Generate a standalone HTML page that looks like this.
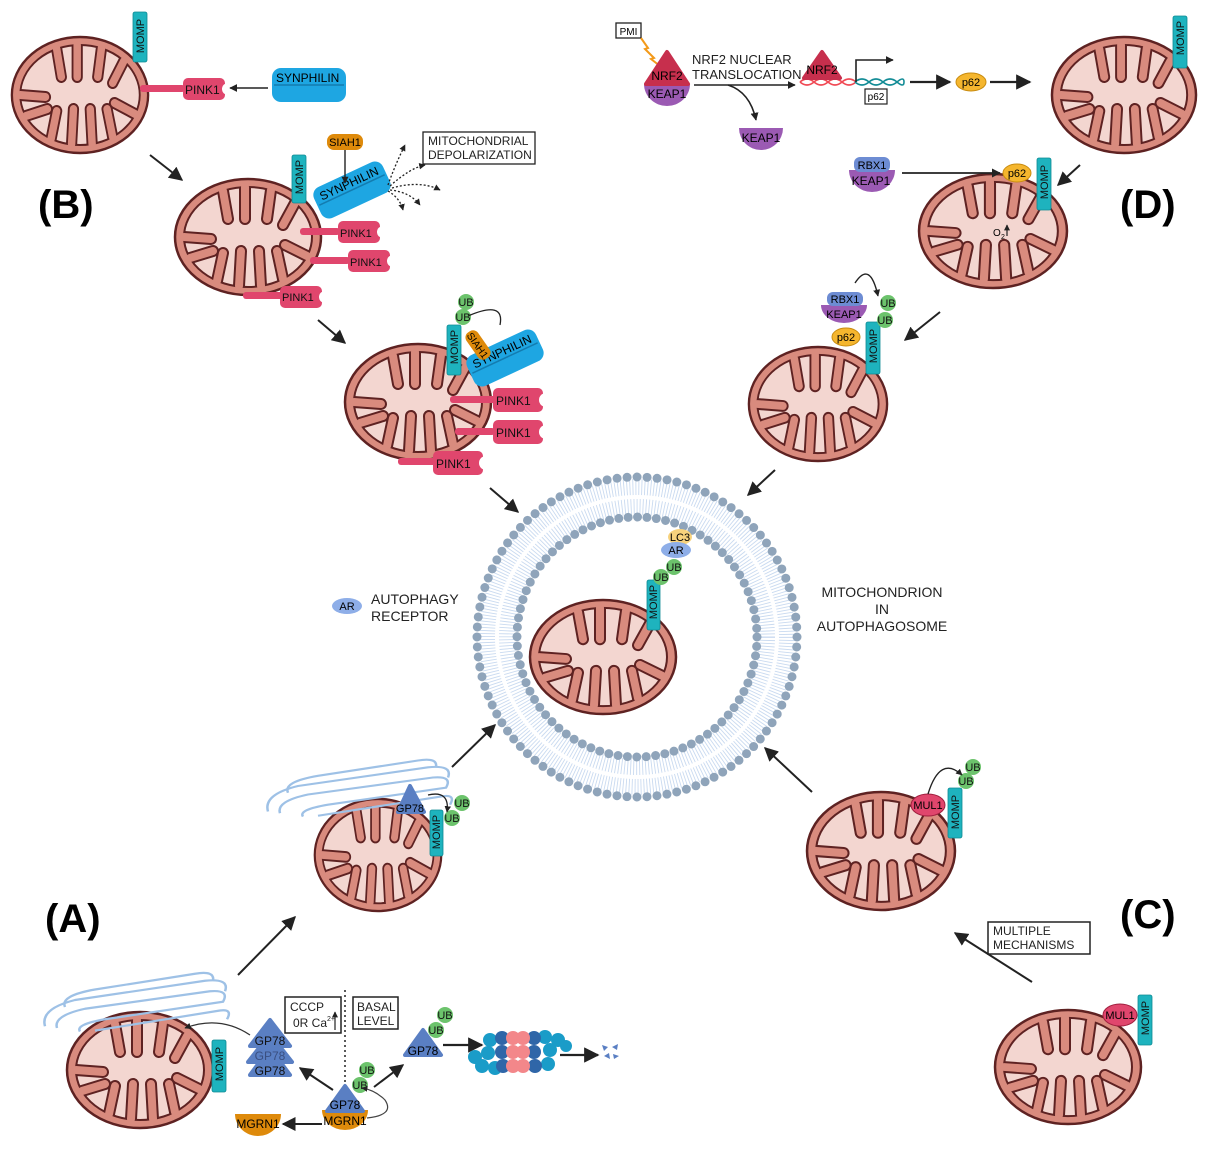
<!DOCTYPE html>
<html><head><meta charset="utf-8"><style>
html,body{margin:0;padding:0;background:#fff}
svg{display:block;font-family:"Liberation Sans",sans-serif}
</style></head><body>
<svg width="1219" height="1154" viewBox="0 0 1219 1154" xmlns="http://www.w3.org/2000/svg">
<defs>
<marker id="ah" viewBox="0 0 10 10" refX="9" refY="5" markerWidth="5" markerHeight="5" orient="auto"><path d="M0,0L10,5L0,10Z" fill="#222"/></marker>
<marker id="as" viewBox="0 0 10 10" refX="9" refY="5" markerWidth="7" markerHeight="7" orient="auto"><path d="M0,0L10,5L0,10Z" fill="#222"/></marker>
<symbol id="mito" viewBox="0 0 150 120" preserveAspectRatio="none">
<ellipse cx="75" cy="60" rx="73" ry="58" fill="#d98b7e"/>
<ellipse cx="75" cy="60" rx="64" ry="50" fill="#f3d6d0"/>
<path stroke-linecap="round" fill="none" stroke="#5e2222" stroke-width="12" d="M50 14L55 42M72 10V42M98 13L94 42M122 26L110 48M11 60L38 62M17 81L40 74M44 104L50 76M66 109L68 74M88 109L86 74M110 102L104 74M134 79L112 68"/>
<path fill="#d98b7e" fill-rule="evenodd" d="M2,60 a73,58 0 1,0 146,0 a73,58 0 1,0 -146,0 Z M11,60 a64,50 0 1,0 128,0 a64,50 0 1,0 -128,0 Z"/>
<ellipse cx="75" cy="60" rx="64" ry="50" fill="none" stroke="#5e2222" stroke-width="2"/>
<path stroke-linecap="round" fill="none" stroke="#d98b7e" stroke-width="8" d="M50 14L55 42M72 10V42M98 13L94 42M122 26L110 48M11 60L38 62M17 81L40 74M44 104L50 76M66 109L68 74M88 109L86 74M110 102L104 74M134 79L112 68"/>
<ellipse cx="75" cy="60" rx="73" ry="58" fill="none" stroke="#5e2222" stroke-width="2.5"/>
</symbol>
<symbol id="golgi" viewBox="0 0 200 80" preserveAspectRatio="none">
<g fill="none" stroke="#9ec1e6" stroke-width="2.5">
<path d="M10 70 Q5 50 40 40 L170 18 Q195 15 190 30"/>
<path d="M22 72 Q18 58 50 50 L175 30 Q195 28 188 42 L70 62 Q40 68 45 76"/>
<path d="M30 48 Q25 35 60 28 L160 10 Q180 6 178 18"/>
<path d="M60 75 L185 52 Q198 50 192 62"/>
</g>
</symbol>
</defs>

<use href="#mito" x="10" y="35" width="140" height="120"/>
<use href="#mito" x="173" y="177" width="150" height="120"/>
<use href="#mito" x="343" y="342" width="150" height="120"/>
<use href="#mito" x="1050" y="35" width="148" height="120"/>
<use href="#mito" x="917" y="172" width="152" height="118"/>
<use href="#mito" x="747" y="345" width="142" height="118"/>
<use href="#mito" x="313" y="797" width="130" height="116"/>
<use href="#mito" x="65" y="1010" width="150" height="120"/>
<use href="#mito" x="805" y="790" width="152" height="122"/>
<use href="#mito" x="993" y="1008" width="150" height="118"/>

<g fill="none">
<circle cx="637" cy="637" r="150" stroke="#c9daf0" stroke-width="16" stroke-dasharray="0.9 2.1"/>
<circle cx="637" cy="637" r="130" stroke="#c9daf0" stroke-width="16" stroke-dasharray="0.9 2.1"/>
<circle cx="637" cy="637" r="140" stroke="#fff" stroke-width="2.5"/>
<circle cx="637" cy="637" r="160" stroke="#8fa4ba" stroke-width="9" stroke-dasharray="0 10.05" stroke-linecap="round"/>
<circle cx="637" cy="637" r="120" stroke="#8fa4ba" stroke-width="9" stroke-dasharray="0 9.43" stroke-linecap="round"/>
</g>
<use href="#mito" x="528" y="598" width="150" height="118"/>

<g fill="#1eb3be" stroke="#0e8a93" stroke-width="0.8">
<rect x="133" y="12" width="14" height="50" rx="2"/>
<rect x="292" y="155" width="14" height="48" rx="2"/>
<rect x="447" y="325" width="14" height="50" rx="2"/>
<rect x="1173" y="16" width="14" height="52" rx="2"/>
<rect x="1037" y="158" width="14" height="52" rx="2"/>
<rect x="866" y="322" width="14" height="52" rx="2"/>
<rect x="647" y="580" width="13" height="50" rx="2"/>
<rect x="430" y="810" width="13" height="46" rx="2"/>
<rect x="212" y="1040" width="14" height="52" rx="2"/>
<rect x="948" y="788" width="14" height="50" rx="2"/>
<rect x="1138" y="995" width="14" height="50" rx="2"/>
</g>
<g font-size="11" fill="#111" text-anchor="middle">
<text transform="translate(144,36) rotate(-90)">MOMP</text>
<text transform="translate(303,177) rotate(-90)">MOMP</text>
<text transform="translate(458,347) rotate(-90)">MOMP</text>
<text transform="translate(1184,38) rotate(-90)">MOMP</text>
<text transform="translate(1048,182) rotate(-90)">MOMP</text>
<text transform="translate(877,346) rotate(-90)">MOMP</text>
<text transform="translate(657,602) rotate(-90)">MOMP</text>
<text transform="translate(440,832) rotate(-90)">MOMP</text>
<text transform="translate(223,1064) rotate(-90)">MOMP</text>
<text transform="translate(959,812) rotate(-90)">MOMP</text>
<text transform="translate(1149,1018) rotate(-90)">MOMP</text>
</g>

<g fill="#e0466d">
<rect x="140" y="85" width="45" height="7" rx="3"/>
<rect x="183" y="78" width="42" height="22" rx="5"/>
<rect x="300" y="228" width="40" height="7" rx="3"/>
<rect x="338" y="221" width="42" height="22" rx="5"/>
<rect x="310" y="257" width="40" height="7" rx="3"/>
<rect x="348" y="250" width="42" height="22" rx="5"/>
<rect x="243" y="292" width="40" height="7" rx="3"/>
<rect x="280" y="286" width="42" height="22" rx="5"/>
<rect x="450" y="396" width="48" height="7" rx="3"/>
<rect x="493" y="388" width="50" height="24" rx="5"/>
<rect x="455" y="428" width="40" height="7" rx="3"/>
<rect x="493" y="420" width="50" height="24" rx="5"/>
<rect x="398" y="458" width="40" height="7" rx="3"/>
<rect x="433" y="451" width="50" height="24" rx="5"/>
</g>
<g fill="#fff"><circle cx="228" cy="89" r="6"/><circle cx="383" cy="232" r="6"/><circle cx="393" cy="261" r="6"/><circle cx="325" cy="297" r="6"/><circle cx="546" cy="400" r="7"/><circle cx="546" cy="432" r="7"/><circle cx="486" cy="463" r="7"/></g>
<g font-size="12" fill="#111">
<text x="185" y="94">PINK1</text>
<text x="340" y="237" font-size="11">PINK1</text>
<text x="350" y="266" font-size="11">PINK1</text>
<text x="282" y="301" font-size="11">PINK1</text>
<text x="496" y="405">PINK1</text>
<text x="496" y="437">PINK1</text>
<text x="436" y="468">PINK1</text>
</g>

<g>
<rect x="272" y="68" width="74" height="34" rx="9" fill="#1ea6e2"/>
<line x1="274" y1="85" x2="344" y2="85" stroke="#137cb0" stroke-width="1.5"/>
<text x="276" y="82" font-size="12">SYNPHILIN</text>
</g>
<g transform="translate(352,190) rotate(-25)">
<rect x="-38" y="-17" width="76" height="34" rx="9" fill="#1ea6e2"/>
<line x1="-36" y1="0" x2="36" y2="0" stroke="#137cb0" stroke-width="1.5"/>
<text x="0" y="-3" font-size="12" text-anchor="middle">SYNPHILIN</text>
</g>
<g transform="translate(505,358) rotate(-25)">
<rect x="-38" y="-17" width="76" height="34" rx="9" fill="#1ea6e2"/>
<line x1="-36" y1="0" x2="36" y2="0" stroke="#137cb0" stroke-width="1.5"/>
<text x="0" y="-3" font-size="12" text-anchor="middle">SYNPHILIN</text>
</g>

<rect x="327" y="134" width="36" height="16" rx="7" fill="#de8a0b"/>
<text x="345" y="146" font-size="11" text-anchor="middle">SIAH1</text>
<g transform="translate(478,345) rotate(55)">
<rect x="-16" y="-7" width="32" height="14" rx="6" fill="#de8a0b"/>
<text x="0" y="4" font-size="10" text-anchor="middle">SIAH1</text>
</g>

<g fill="#6cc36c">
<circle cx="466" cy="302" r="8"/><circle cx="463" cy="317" r="8"/>
<circle cx="888" cy="303" r="8"/><circle cx="885" cy="320" r="8"/>
<circle cx="661" cy="577" r="8"/><circle cx="674" cy="567" r="8"/>
<circle cx="462" cy="803" r="8"/><circle cx="452" cy="818" r="8"/>
<circle cx="445" cy="1015" r="8"/><circle cx="436" cy="1030" r="8"/>
<circle cx="367" cy="1070" r="8"/><circle cx="360" cy="1085" r="8"/>
<circle cx="973" cy="767" r="8"/><circle cx="966" cy="781" r="8"/>
</g>
<g font-size="11" text-anchor="middle" fill="#111">
<text x="466" y="306">UB</text><text x="463" y="321">UB</text>
<text x="888" y="307">UB</text><text x="885" y="324">UB</text>
<text x="661" y="581">UB</text><text x="674" y="571">UB</text>
<text x="462" y="807">UB</text><text x="452" y="822">UB</text>
<text x="445" y="1019">UB</text><text x="436" y="1034">UB</text>
<text x="367" y="1074">UB</text><text x="360" y="1089">UB</text>
<text x="973" y="771">UB</text><text x="966" y="785">UB</text>
</g>

<ellipse cx="680" cy="537" rx="12" ry="8" fill="#f7d27d"/>
<text x="680" y="541" font-size="11" text-anchor="middle">LC3</text>
<ellipse cx="676" cy="550" rx="15" ry="8" fill="#8eaee8"/>
<text x="676" y="554" font-size="11" text-anchor="middle">AR</text>
<ellipse cx="347" cy="606" rx="15" ry="8" fill="#8eaee8"/>
<text x="347" y="610" font-size="11" text-anchor="middle">AR</text>
<g font-size="14" fill="#222">
<text x="371" y="604">AUTOPHAGY</text><text x="371" y="621">RECEPTOR</text>
<text x="882" y="597" text-anchor="middle">MITOCHONDRION</text>
<text x="882" y="614" text-anchor="middle">IN</text>
<text x="882" y="631" text-anchor="middle">AUTOPHAGOSOME</text>
</g>

<rect x="616" y="23" width="25" height="15" fill="#fff" stroke="#222" stroke-width="1.3"/>
<text x="628.5" y="35" font-size="10" text-anchor="middle">PMI</text>
<path d="M641 38 L648 48 L645 49 L654 58 L651 59 L660 66" fill="none" stroke="#f39a1a" stroke-width="2"/>
<path d="M644 84 L690 84 A23 22 0 0 1 644 84 Z" fill="#9b5ab3"/>
<path d="M667 52 L688 84 L646 84 Z" fill="#c72f4d" stroke="#c72f4d" stroke-width="4" stroke-linejoin="round"/>
<text x="667" y="80" font-size="12" text-anchor="middle">NRF2</text>
<text x="667" y="98" font-size="12" text-anchor="middle">KEAP1</text>
<g font-size="13" fill="#222"><text x="692" y="64">NRF2 NUCLEAR</text><text x="692" y="79">TRANSLOCATION</text></g>
<line x1="694" y1="85" x2="795" y2="85" stroke="#222" stroke-width="1.6" marker-end="url(#ah)"/>
<path d="M728 85 Q750 92 756 120" fill="none" stroke="#222" stroke-width="1.6" marker-end="url(#ah)"/>
<path d="M739 128 L783 128 A22 22 0 0 1 739 128 Z" fill="#9b5ab3"/>
<text x="761" y="142" font-size="12" text-anchor="middle">KEAP1</text>
<path d="M800 82 q7 -6 14 0 t14 0 t14 0 t14 0 M800 82 q7 6 14 0 t14 0 t14 0 t14 0" fill="none" stroke="#f04a55" stroke-width="1.6"/>
<path d="M855 82 q7 -6 14 0 t14 0 t14 0 t7 0 M855 82 q7 6 14 0 t14 0 t14 0 t7 0" fill="none" stroke="#138c96" stroke-width="1.6"/>
<path d="M822 52 L840 78 L804 78 Z" fill="#c72f4d" stroke="#c72f4d" stroke-width="4" stroke-linejoin="round"/>
<text x="822" y="74" font-size="12" text-anchor="middle">NRF2</text>
<path d="M856 82 V60 H893" fill="none" stroke="#222" stroke-width="1.6" marker-end="url(#ah)"/>
<rect x="865" y="89" width="22" height="15" fill="#fff" stroke="#222" stroke-width="1.2"/>
<text x="876" y="100" font-size="10" text-anchor="middle">p62</text>
<line x1="910" y1="82" x2="950" y2="82" stroke="#222" stroke-width="2.2" marker-end="url(#as)"/>
<ellipse cx="971" cy="82" rx="15" ry="9" fill="#f5b62e" stroke="#c98c10"/>
<text x="971" y="86" font-size="11" text-anchor="middle">p62</text>
<line x1="990" y1="82" x2="1030" y2="82" stroke="#222" stroke-width="2.2" marker-end="url(#as)"/>
<line x1="1080" y1="165" x2="1058" y2="185" stroke="#222" stroke-width="2" marker-end="url(#as)"/>
<path d="M849 170 L895 170 A23 22 0 0 1 849 170 Z" fill="#9b5ab3"/>
<rect x="854" y="157" width="36" height="15" rx="6" fill="#6d8cd3"/>
<text x="872" y="169" font-size="11" text-anchor="middle">RBX1</text>
<text x="871" y="185" font-size="12" text-anchor="middle">KEAP1</text>
<line x1="902" y1="173" x2="1000" y2="173" stroke="#222" stroke-width="1.8" marker-end="url(#ah)"/>
<ellipse cx="1017" cy="173" rx="14" ry="9" fill="#f5b62e" stroke="#c98c10"/>
<text x="1017" y="177" font-size="11" text-anchor="middle">p62</text>
<text x="993" y="236" font-size="10">O</text><text x="1001" y="239" font-size="7">2</text>
<path d="M1007 236 V225" stroke="#222" stroke-width="1.2" marker-end="url(#ah)"/>
<text x="1120" y="218" font-size="40" font-weight="bold">(D)</text>
<line x1="940" y1="312" x2="905" y2="340" stroke="#222" stroke-width="2" marker-end="url(#as)"/>
<path d="M855 283 Q870 260 878 296" fill="none" stroke="#222" stroke-width="1.4" marker-end="url(#ah)"/>
<path d="M821 305 L867 305 A23 18 0 0 1 821 305 Z" fill="#9b5ab3"/>
<rect x="827" y="292" width="36" height="14" rx="6" fill="#6d8cd3"/>
<text x="845" y="303" font-size="11" text-anchor="middle">RBX1</text>
<text x="844" y="318" font-size="11" text-anchor="middle">KEAP1</text>
<ellipse cx="846" cy="337" rx="14" ry="9" fill="#f5b62e" stroke="#c98c10"/>
<text x="846" y="341" font-size="11" text-anchor="middle">p62</text>
<line x1="775" y1="470" x2="748" y2="495" stroke="#222" stroke-width="2" marker-end="url(#as)"/>

<line x1="150" y1="155" x2="182" y2="180" stroke="#222" stroke-width="2" marker-end="url(#as)"/>
<line x1="268" y1="88" x2="230" y2="88" stroke="#222" stroke-width="1.6" marker-end="url(#ah)"/>
<line x1="345" y1="150" x2="345" y2="183" stroke="#222" stroke-width="1.4" marker-end="url(#ah)"/>
<g fill="none" stroke="#222" stroke-width="1.3" stroke-dasharray="2 2" marker-end="url(#ah)">
<path d="M388 185 Q395 165 405 145"/><path d="M390 186 Q410 168 425 165"/><path d="M392 188 Q420 180 440 190"/><path d="M390 190 Q410 192 420 205"/><path d="M388 191 Q400 198 403 210"/>
</g>
<rect x="423" y="132" width="112" height="32" fill="#fff" stroke="#222" stroke-width="1.3"/>
<g font-size="12" fill="#222"><text x="428" y="145">MITOCHONDRIAL</text><text x="428" y="159">DEPOLARIZATION</text></g>
<text x="38" y="218" font-size="40" font-weight="bold">(B)</text>
<line x1="318" y1="320" x2="345" y2="343" stroke="#222" stroke-width="2" marker-end="url(#as)"/>
<path d="M468 316 Q505 300 500 325" fill="none" stroke="#222" stroke-width="1.3"/>
<line x1="490" y1="488" x2="518" y2="512" stroke="#222" stroke-width="2" marker-end="url(#as)"/>

<use href="#golgi" x="258" y="752" width="200" height="68"/>
<use href="#golgi" x="35" y="965" width="200" height="70"/>
<path d="M398 812 L410 786 L424 812 Z" fill="#5a7fc3" stroke="#5a7fc3" stroke-width="4" stroke-linejoin="round"/>
<text x="410" y="812" font-size="11" text-anchor="middle">GP78</text>
<path d="M428 795 Q450 790 447 812" fill="none" stroke="#222" stroke-width="1.3" marker-end="url(#ah)"/>
<line x1="452" y1="767" x2="495" y2="725" stroke="#222" stroke-width="2" marker-end="url(#as)"/>
<line x1="238" y1="975" x2="295" y2="917" stroke="#222" stroke-width="2" marker-end="url(#as)"/>
<text x="45" y="932" font-size="40" font-weight="bold">(A)</text>
<g fill="#5a7fc3" stroke="#5a7fc3" stroke-width="4" stroke-linejoin="round">
<path d="M270 1048 L290 1075 L250 1075 Z"/>
<path d="M270 1034 L292 1062 L248 1062 Z"/>
<path d="M270 1020 L290 1046 L250 1046 Z"/>
</g>
<g font-size="12" text-anchor="middle" fill="#111"><text x="270" y="1045">GP78</text><text x="270" y="1060" fill="#3a4f80">GP78</text><text x="270" y="1075">GP78</text></g>
<path d="M250 1035 Q220 1015 185 1028" fill="none" stroke="#333" stroke-width="1.3" marker-end="url(#ah)"/>
<rect x="285" y="997" width="56" height="36" fill="#fff" stroke="#222" stroke-width="1.5"/>
<g font-size="12" fill="#222"><text x="290" y="1011">CCCP</text><text x="293" y="1027">0R Ca</text><text x="327" y="1021" font-size="7">2+</text></g>
<path d="M335 1030 V1012" stroke="#222" stroke-width="1.2" marker-end="url(#ah)"/>
<line x1="345" y1="990" x2="345" y2="1088" stroke="#222" stroke-width="1.5" stroke-dasharray="2 3"/>
<rect x="353" y="997" width="45" height="32" fill="#fff" stroke="#222" stroke-width="1.5"/>
<g font-size="12" fill="#222"><text x="357" y="1011">BASAL</text><text x="357" y="1025">LEVEL</text></g>
<path d="M322 1110 L368 1110 A23 20 0 0 1 322 1110 Z" fill="#de8a0b"/>
<path d="M345 1086 L363 1111 L327 1111 Z" fill="#5a7fc3" stroke="#5a7fc3" stroke-width="4" stroke-linejoin="round"/>
<text x="345" y="1109" font-size="12" text-anchor="middle">GP78</text>
<text x="345" y="1125" font-size="12" text-anchor="middle">MGRN1</text>
<path d="M367 1118 Q395 1115 385 1100 Q375 1090 362 1088" fill="none" stroke="#444" stroke-width="1.2" marker-end="url(#ah)"/>
<line x1="333" y1="1090" x2="300" y2="1068" stroke="#222" stroke-width="2" marker-end="url(#as)"/>
<line x1="374" y1="1087" x2="403" y2="1065" stroke="#222" stroke-width="2" marker-end="url(#as)"/>
<line x1="322" y1="1124" x2="283" y2="1124" stroke="#222" stroke-width="2" marker-end="url(#as)"/>
<path d="M235 1114 L281 1114 A23 22 0 0 1 235 1114 Z" fill="#de8a0b"/>
<text x="258" y="1128" font-size="12" text-anchor="middle">MGRN1</text>
<path d="M423 1030 L441 1055 L405 1055 Z" fill="#5a7fc3" stroke="#5a7fc3" stroke-width="4" stroke-linejoin="round"/>
<text x="423" y="1055" font-size="12" text-anchor="middle">GP78</text>
<line x1="443" y1="1045" x2="482" y2="1045" stroke="#222" stroke-width="2.2" marker-end="url(#as)"/>
<g>
<g fill="#1a9cc8"><circle cx="475" cy="1057" r="7"/><circle cx="482" cy="1066" r="7"/><circle cx="490" cy="1040" r="7"/><circle cx="488" cy="1053" r="7"/><circle cx="495" cy="1068" r="7"/><circle cx="545" cy="1037" r="7"/><circle cx="550" cy="1050" r="7"/><circle cx="548" cy="1064" r="7"/><circle cx="558" cy="1040" r="7"/><circle cx="566" cy="1046" r="6"/></g>
<g fill="#2f66a8"><circle cx="502" cy="1038" r="7"/><circle cx="502" cy="1052" r="7"/><circle cx="503" cy="1066" r="7"/><circle cx="534" cy="1038" r="7"/><circle cx="534" cy="1052" r="7"/><circle cx="535" cy="1066" r="7"/></g>
<g fill="#f3878a"><circle cx="513" cy="1038" r="7"/><circle cx="513" cy="1052" r="7"/><circle cx="513" cy="1066" r="7"/><circle cx="523" cy="1038" r="7"/><circle cx="523" cy="1052" r="7"/><circle cx="523" cy="1066" r="7"/></g>
</g>
<line x1="560" y1="1055" x2="598" y2="1055" stroke="#222" stroke-width="2.2" marker-end="url(#as)"/>
<g fill="#5a7fc3"><path d="M602 1045 l6 2 -4 4z"/><path d="M612 1047 l6 -3 -1 6z"/><path d="M604 1056 l5 -3 1 6z"/><path d="M613 1054 l6 2 -5 3z"/></g>

<line x1="812" y1="792" x2="765" y2="748" stroke="#222" stroke-width="2" marker-end="url(#as)"/>
<ellipse cx="928" cy="805" rx="17" ry="11" fill="#e0466d" stroke="#a0203f"/>
<text x="928" y="809" font-size="11" text-anchor="middle">MUL1</text>
<path d="M928 794 Q940 755 962 775" fill="none" stroke="#222" stroke-width="1.3" marker-end="url(#ah)"/>
<text x="1120" y="928" font-size="40" font-weight="bold">(C)</text>
<rect x="988" y="922" width="102" height="32" fill="#fff" stroke="#222" stroke-width="1.5"/>
<g font-size="12" fill="#222"><text x="993" y="935">MULTIPLE</text><text x="993" y="949">MECHANISMS</text></g>
<line x1="1032" y1="982" x2="955" y2="933" stroke="#222" stroke-width="2" marker-end="url(#as)"/>
<ellipse cx="1120" cy="1015" rx="17" ry="11" fill="#e0466d" stroke="#a0203f"/>
<text x="1120" y="1019" font-size="11" text-anchor="middle">MUL1</text>
</svg>
</body></html>
